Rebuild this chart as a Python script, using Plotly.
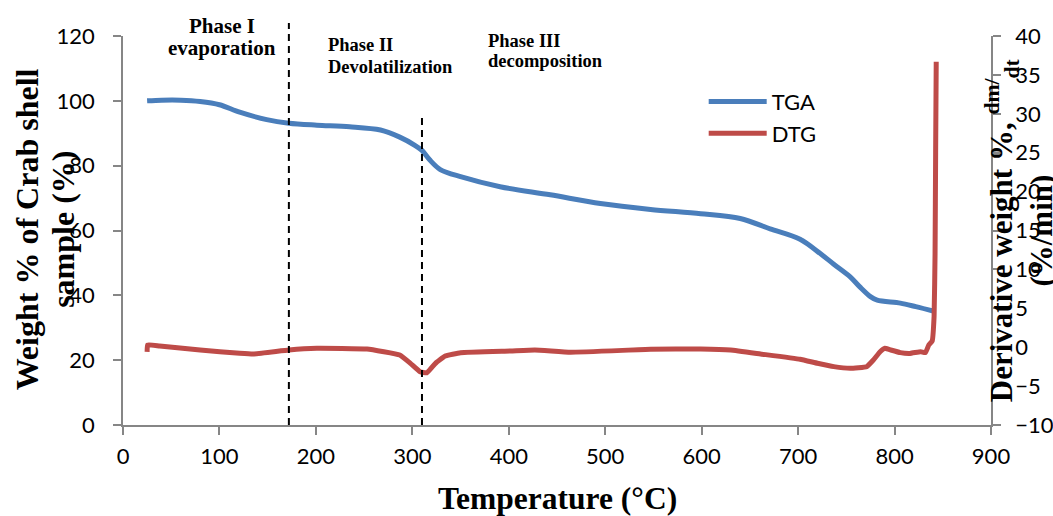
import plotly.graph_objects as go

# ---------------- data ----------------
tga_temp = [25, 40, 60, 80, 100, 121, 149, 172, 201, 235, 267, 287, 303, 310, 318, 329,
            350, 391, 443, 495, 547, 599, 640, 671, 702, 723, 737, 754, 764, 775, 782,
            806, 822, 842]
tga_weight = [100.0, 100.2, 100.2, 99.8, 98.8, 96.5, 94.2, 93.1, 92.5, 92.0, 91.0, 88.8,
              86.2, 84.7, 81.8, 78.8, 76.6, 73.5, 71.0, 68.3, 66.5, 65.2, 63.7, 60.5,
              57.3, 52.9, 49.6, 45.7, 42.6, 39.6, 38.5, 37.6, 36.5, 35.0]

dtg_temp = [25, 25.5, 38, 80, 121, 135, 172, 201, 253, 287, 298, 308, 315, 324, 334,
            350, 402, 427, 464, 547, 599, 630, 661, 702, 720, 737, 754, 771, 778, 785,
            790, 796, 806, 816, 827, 832, 835.5, 839, 841, 842, 842.6, 843.2]
dtg_rate = [-0.6, 0.3, 0.15, -0.36, -0.78, -0.87, -0.36, -0.14, -0.23, -1.0, -2.07,
            -3.15, -3.3, -2.07, -1.13, -0.7, -0.49, -0.36, -0.65, -0.27, -0.23, -0.36,
            -0.87, -1.55, -2.07, -2.5, -2.7, -2.5, -1.65, -0.58, -0.14, -0.36, -0.7,
            -0.8, -0.58, -0.7, 0.28, 0.8, 4.0, 12.0, 25.0, 36.7]

x_ticks = [0, 100, 200, 300, 400, 500, 600, 700, 800, 900]
y_ticks = [0, 20, 40, 60, 80, 100, 120]
y2_ticks = [-10, -5, 0, 5, 10, 15, 20, 25, 30, 35, 40]

phase_boundaries = [172, 310]          # temperature of the dashed separators
phase_boundary_tops = [124, 95]        # top of each separator in weight-% units

phase_labels = [
    ("Phase I", "evaporation"),
    ("Phase II", "Devolatilization"),
    ("Phase III", "decomposition"),
]
phase_label_x = [103, 210, 376]

y_title_lines = ["Weight % of Crab shell", "sample (%)"]
y2_title = "Derivative weight %, <sup>dm/</sup><sub>dt</sub><br>(%/min)"
x_title = "Temperature (°C)"

# ---------------- styling ----------------
BLUE = "#4A7EBB"
RED = "#BE4B48"
AXIS = "#868686"
TICK_FONT = dict(family="Lato", size=22, color="black")
SERIF = "Liberation Serif"

fig = go.Figure()
fig.add_trace(go.Scatter(x=tga_temp, y=tga_weight, name="TGA", mode="lines",
                         line=dict(color=BLUE, width=5, shape="spline", smoothing=0.9)))
fig.add_trace(go.Scatter(x=dtg_temp, y=dtg_rate, name="DTG", mode="lines", yaxis="y2",
                         line=dict(color=RED, width=5, shape="spline", smoothing=0.3)))

ymax = y_ticks[-1]
for xb, top in zip(phase_boundaries, phase_boundary_tops):
    fig.add_shape(type="line", xref="x", yref="paper", x0=xb, x1=xb, y0=0, y1=top / ymax,
                  line=dict(color="black", width=2, dash="7px,5px"))

annotations = []
label_specs = [
    dict(size=21, xanchor="center", y1=1.026, y2=0.970),
    dict(size=18.5, xanchor="left", y1=0.977, y2=0.920),
    dict(size=18.5, xanchor="left", y1=0.987, y2=0.936),
]
for (l1, l2), xl, spec in zip(phase_labels, phase_label_x, label_specs):
    for txt, yy in ((l1, spec["y1"]), (l2, spec["y2"])):
        annotations.append(dict(text="<b>%s</b>" % txt, x=xl, xref="x", y=yy, yref="paper",
                                xanchor=spec["xanchor"], yanchor="middle", showarrow=False,
                                font=dict(family=SERIF, size=spec["size"], color="black")))

# axis titles
annotations.append(dict(text="<b>%s</b>" % x_title, x=0.5, xref="paper", y=-0.19,
                        yref="paper", xanchor="center", yanchor="middle", showarrow=False,
                        font=dict(family=SERIF, size=31.5, color="black")))
for txt, xp in zip(y_title_lines, [-0.111, -0.069]):
    annotations.append(dict(text="<b>%s</b>" % txt, x=xp, xref="paper", y=0.502,
                            yref="paper", xanchor="center", yanchor="middle",
                            textangle=-90, showarrow=False,
                            font=dict(family=SERIF, size=32, color="black")))
annotations.append(dict(text="<b>%s</b>" % y2_title,
                        x=1.033, xref="paper", y=0.5, yref="paper", xanchor="center",
                        yanchor="middle", textangle=-90, showarrow=False,
                        font=dict(family=SERIF, size=31, color="black")))

axis_common = dict(showgrid=False, zeroline=False, showline=True, linecolor=AXIS,
                   linewidth=1.5, ticks="outside", tickcolor=AXIS, tickwidth=1.5,
                   ticklen=8, tickfont=TICK_FONT, automargin=False)

fig.update_layout(
    template="none",
    width=1053, height=516,
    margin=dict(l=123, r=62, t=36, b=91, autoexpand=False),
    paper_bgcolor="white", plot_bgcolor="white",
    xaxis=dict(range=[0, 900], tickvals=x_ticks, ticklabelstandoff=3, **axis_common),
    yaxis=dict(range=[0, 120], tickvals=y_ticks, ticklabelstandoff=14, **axis_common),
    yaxis2=dict(range=[-10, 40], tickvals=y2_ticks, overlaying="y", side="right",
                ticklabelstandoff=10, **axis_common),
    legend=dict(x=0.669, y=0.885, xanchor="left", yanchor="top", itemwidth=58,
                bgcolor="rgba(0,0,0,0)", font=dict(family="Lato", size=22, color="black")),
    annotations=annotations,
    showlegend=True,
)

fig.write_html("out.html", config={"displayModeBar": False},
               post_script="document.body.style.margin='0';")
